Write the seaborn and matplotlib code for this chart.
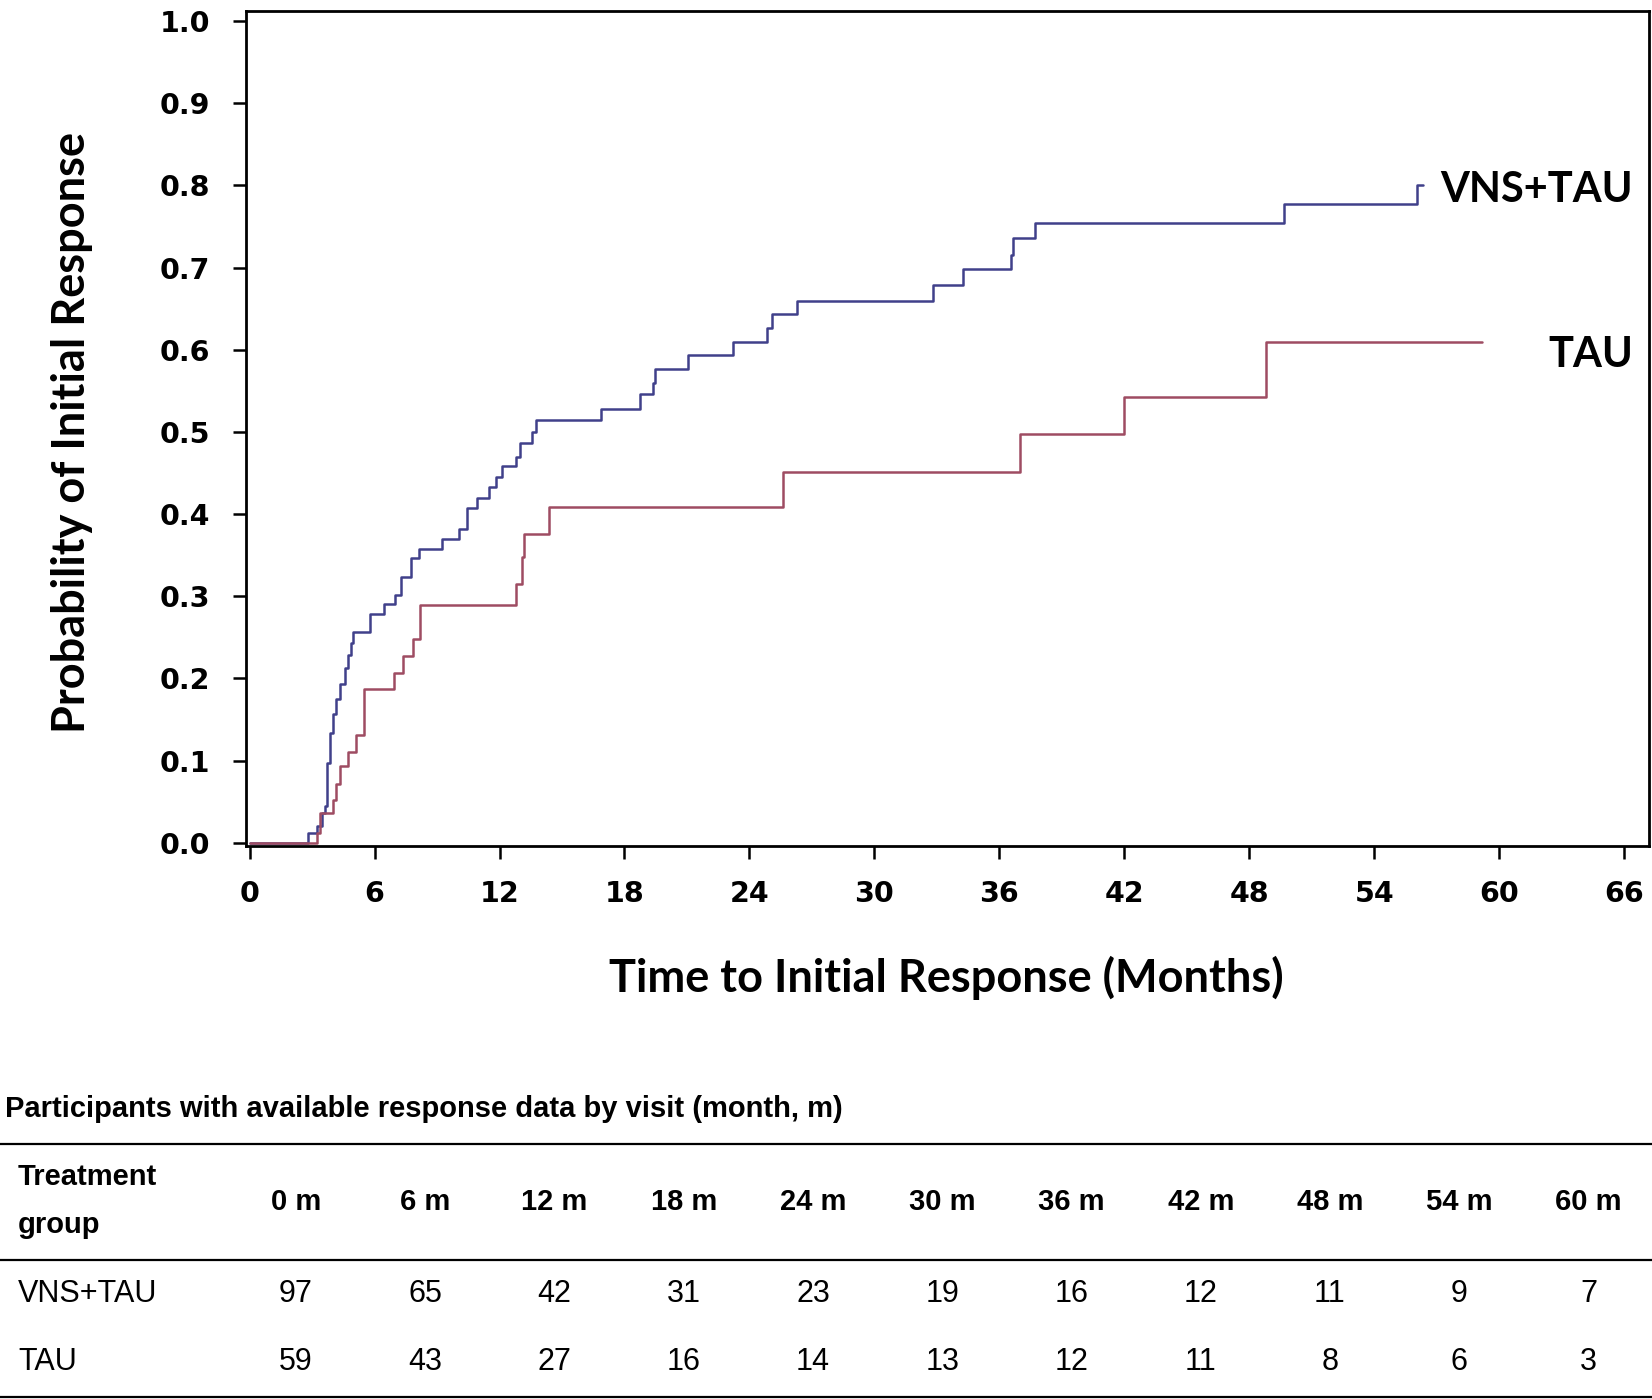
import numpy as np
import pandas as pd
import matplotlib
matplotlib.use("Agg")
import matplotlib.pyplot as plt
from matplotlib.lines import Line2D
import seaborn as sns

# ---------------- data ----------------
vns_months = [0.0, 2.82, 3.21, 3.45, 3.61, 3.72, 3.85, 4.0, 4.17, 4.33, 4.57, 4.7, 4.85, 4.97,
              5.8, 6.45, 7.0, 7.25, 7.73, 8.13, 9.25, 10.05, 10.45, 10.93, 11.49, 11.81,
              12.13, 12.77, 13.0, 13.57, 13.73, 16.85, 18.75, 19.37, 19.47, 21.07, 23.23,
              24.83, 25.07, 26.27, 32.83, 34.27, 36.55, 36.65, 37.72, 49.65, 56.05, 56.37]
vns_prob = [0.0, 0.012, 0.02, 0.036, 0.045, 0.097, 0.133, 0.157, 0.175, 0.193, 0.213, 0.229,
            0.243, 0.256, 0.279, 0.291, 0.301, 0.324, 0.346, 0.358, 0.370, 0.382, 0.407,
            0.420, 0.433, 0.445, 0.458, 0.470, 0.486, 0.500, 0.514, 0.528, 0.546, 0.559,
            0.577, 0.594, 0.610, 0.626, 0.644, 0.660, 0.679, 0.698, 0.715, 0.736, 0.754,
            0.777, 0.801, 0.801]

tau_months = [0.0, 3.21, 3.37, 4.0, 4.17, 4.33, 4.73, 5.09, 5.49, 6.93, 7.34, 7.85, 8.17,
              12.8, 13.09, 13.17, 14.37, 25.6, 37.0, 42.0, 48.8, 59.2]
tau_prob = [0.0, 0.012, 0.036, 0.052, 0.072, 0.093, 0.111, 0.131, 0.187, 0.206, 0.227, 0.248,
            0.289, 0.315, 0.348, 0.376, 0.409, 0.451, 0.497, 0.543, 0.610, 0.610]

groups = ["VNS+TAU", "TAU"]
x_ticks = list(range(0, 67, 6))
y_ticks = [0.0, 0.1, 0.2, 0.3, 0.4, 0.5, 0.6, 0.7, 0.8, 0.9, 1.0]

table_title = "Participants with available response data by visit (month, m)"
table_cols = ["0 m", "6 m", "12 m", "18 m", "24 m", "30 m", "36 m", "42 m", "48 m", "54 m", "60 m"]
vns_n = [97, 65, 42, 31, 23, 19, 16, 12, 11, 9, 7]
tau_n = [59, 43, 27, 16, 14, 13, 12, 11, 8, 6, 3]

df = pd.concat([
    pd.DataFrame({"month": vns_months, "prob": vns_prob, "group": groups[0]}),
    pd.DataFrame({"month": tau_months, "prob": tau_prob, "group": groups[1]}),
], ignore_index=True)

# ---------------- style ----------------
sns.set_style("ticks")
plt.rcParams["font.family"] = ["DejaVu Sans"]
plt.rcParams["text.color"] = "black"
plt.rcParams["axes.labelcolor"] = "black"

W, H = 1652, 1399
fig = plt.figure(figsize=(W / 100, H / 100), dpi=100)
ax = fig.add_axes([245.5 / W, 1 - 846 / H, (1649 - 245.5) / W, (846 - 10.5) / H])

palette = {"VNS+TAU": "#40408a", "TAU": "#9e4c62"}
sns.lineplot(data=df, x="month", y="prob", hue="group", palette=palette,
             drawstyle="steps-post", estimator=None, legend=False, linewidth=1.8, ax=ax)

ax.set_xlim(-0.2, 67.2)
ax.set_ylim(-0.004, 1.013)
ax.set_xticks(x_ticks)
ax.set_yticks(y_ticks)
ax.set_yticklabels([f"{v:.1f}" for v in y_ticks])
for s in ax.spines.values():
    s.set_linewidth(2.0)
    s.set_color("black")
ax.tick_params(axis="both", direction="out", length=9.5, width=1.8, labelsize=20.5, colors="black")
ax.tick_params(axis="x", pad=15)
ax.tick_params(axis="y", pad=16)
for lab in ax.get_xticklabels() + ax.get_yticklabels():
    lab.set_fontweight("bold")

lab_font = dict(family=["Lato", "DejaVu Sans"], fontweight="bold", fontsize=32.5)
ax.set_xlabel("Time to Initial Response (Months)", **lab_font)
ax.set_ylabel("Probability of Initial Response", **lab_font)
ax.xaxis.set_label_coords(0.499, -0.158)
ax.xaxis.label.set_va("center")
ax.yaxis.set_label_coords(-0.1236, 0.4955)
ax.yaxis.label.set_va("center")

ax.text(66.44, 0.7797, "VNS+TAU", ha="right", va="baseline", fontsize=30,
        family=["Lato", "DejaVu Sans"], fontweight="bold")
ax.text(66.44, 0.5794, "TAU", ha="right", va="baseline", fontsize=30,
        family=["Lato", "DejaVu Sans"], fontweight="bold")

# ---------------- table ----------------
narrow = ["Liberation Sans"]
def fx(px):
    return px / W
def fy(py):
    return 1 - py / H

fig.text(fx(5), fy(1109), table_title, ha="left", va="center", fontsize=21,
         fontweight="bold", family=narrow)
for yy in (1144, 1260, 1397):
    fig.add_artist(Line2D([0, 1], [fy(yy), fy(yy)], transform=fig.transFigure,
                          color="black", linewidth=1.6))

fig.text(fx(18), fy(1177), "Treatment", ha="left", va="center", fontsize=21,
         fontweight="bold", family=narrow)
fig.text(fx(18), fy(1225), "group", ha="left", va="center", fontsize=21,
         fontweight="bold", family=narrow)
col_x = [296 + 129.25 * i for i in range(len(table_cols))]
for cx, c in zip(col_x, table_cols):
    fig.text(fx(cx), fy(1202), c, ha="center", va="center", fontsize=21,
             fontweight="bold", family=narrow)

for row_y, name, vals in ((1294, "VNS+TAU", vns_n), (1362, "TAU", tau_n)):
    fig.text(fx(18), fy(row_y), name, ha="left", va="center", fontsize=22, family=narrow)
    for cx, v in zip(col_x, vals):
        fig.text(fx(cx), fy(row_y), str(v), ha="center", va="center", fontsize=22, family=narrow)

fig.savefig("out.png", dpi=100)
